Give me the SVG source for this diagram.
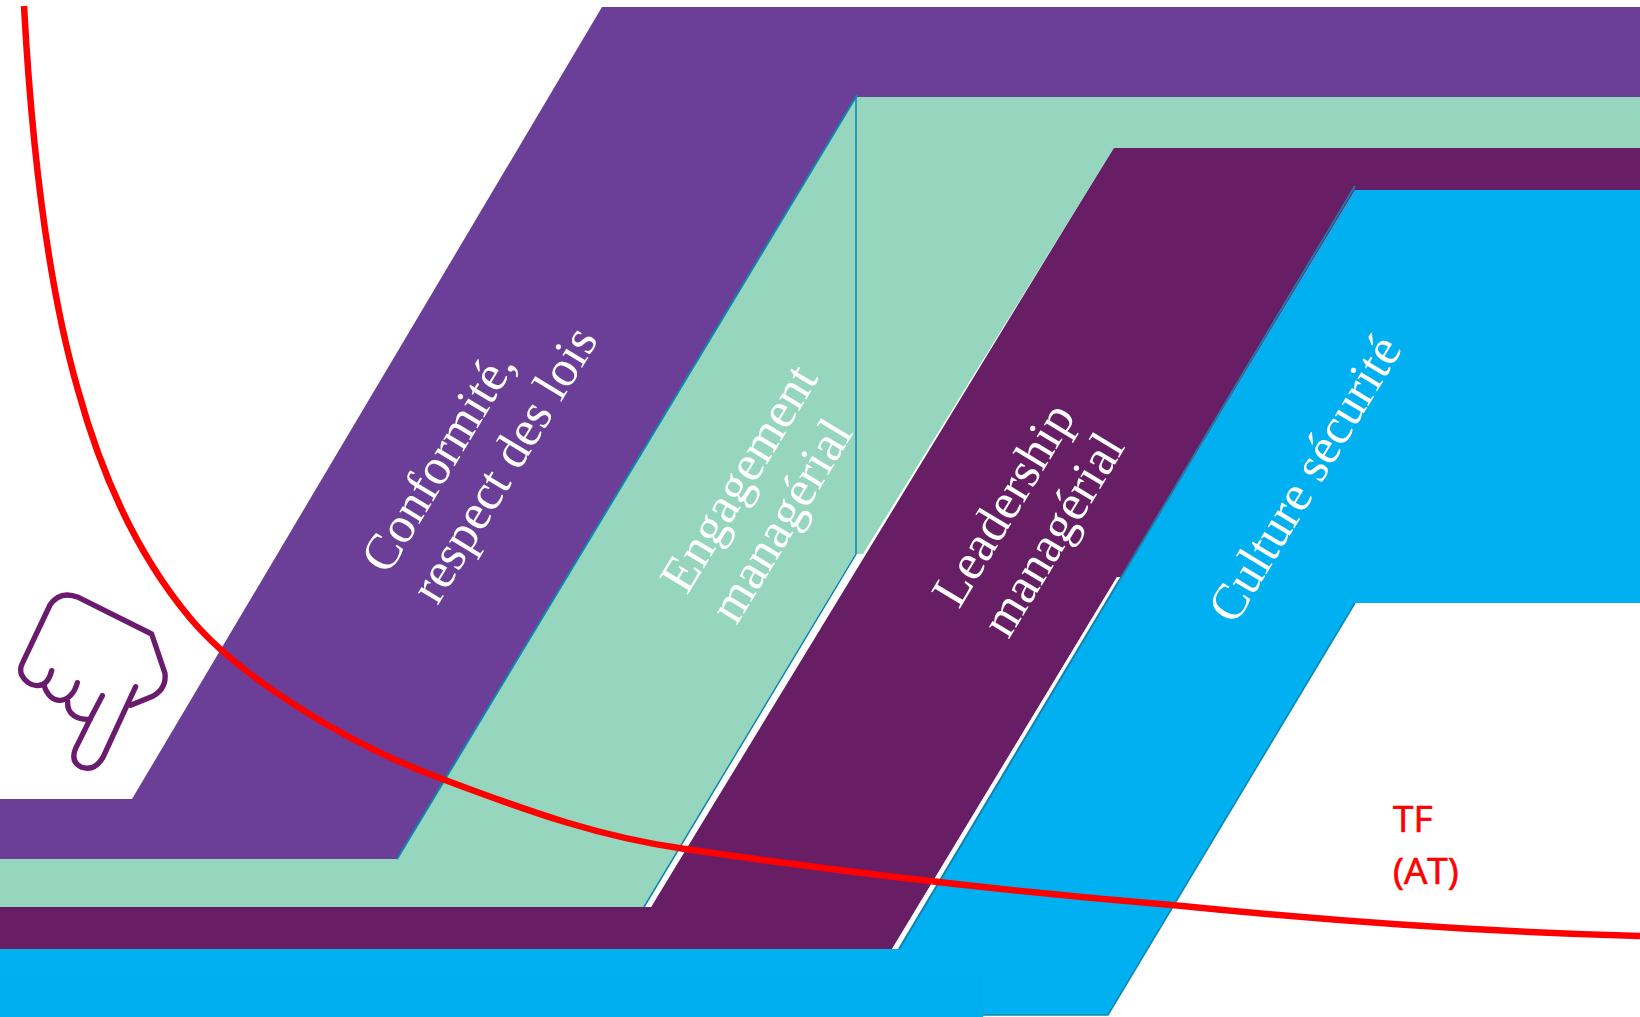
<svg xmlns="http://www.w3.org/2000/svg" width="1640" height="1017" viewBox="0 0 1640 1017">
<style>
.lab{font-family:"Liberation Serif","DejaVu Serif",serif;font-size:51px;fill:#fff}
.tf{font-family:"Open Sans","Noto Sans",sans-serif;font-size:37px;fill:#f00;stroke:#f00;stroke-width:.7}
.edge{fill:none;stroke:#0e86ad;stroke-width:1.5}
</style>
<rect width="1640" height="1017" fill="#fff"/>
<g id="culture">
<path d="M0 949H892L1122 577L1355 190H1640V603H1355L1108 1015H983V1017H0Z" fill="#00b0f0"/>
<rect x="0" y="976" width="983" height="41" fill="#00aeee"/>
<path class="edge" stroke-width="2" d="M1355 603L1108 1015H983"/>
<text class="lab" transform="translate(1235 626) rotate(-58.8)">Culture sécurité</text>
</g>
<g id="leadership">
<path d="M0 907H651L1114 147H1640V190H1355L1122 577H1117L892 949H0Z" fill="#671e64"/>
<path d="M1117 577H1122L899 949H892Z" fill="#fff"/>
<path d="M899 949L1355 186" fill="none" stroke="#1280ae" stroke-width="2"/>
<text class="lab" transform="translate(959 610) rotate(-58.8)"><tspan x="0" y="0">Leadership</tspan><tspan x="0" y="58">managérial</tspan></text>
</g>
<g id="engagement">
<path d="M0 859H397L856 97H1640V148H1114L863 554H855L644 907H0Z" fill="#96d6be"/>
<path d="M855 554H863L651 907H644Z" fill="#fff"/>
<path class="edge" d="M856 97V554L644 907"/>
<text class="lab" transform="translate(687 596) rotate(-58.8)"><tspan x="0" y="0">Engagement</tspan><tspan x="0" y="58">managérial</tspan></text>
</g>
<g id="conformite">
<path d="M0 799H132L602 7H1640V97H856L397 859H0Z" fill="#6b3f98"/>
<path d="M397 859L857 95" fill="none" stroke="#0e86ad" stroke-width="2"/>
<text class="lab" transform="translate(388 576) rotate(-58.8)"><tspan x="0" y="0">Conformité,</tspan><tspan x="0" y="58">respect des lois</tspan></text>
</g>
<g id="main" fill="none" stroke="#6a1b6e" stroke-width="16" stroke-linecap="round" stroke-linejoin="round" transform="translate(0 560) scale(.3333)">
<path d="M155 332C140 395 85 385 65 345Q58 328 67 310L150 135Q180 90 235 112L455 222L495 340Q500 385 460 408L392 436"/>
<path d="M232 368C215 435 150 440 132 375"/>
<path d="M307 407L270 478C235 480 200 465 203 425"/>
<path d="M270 478L227 565Q210 605 245 622Q285 635 310 590L407 380"/>
</g>
<g id="connectors">
<path id="courbe-tf" d="M24 6C33 170 52 300 78 390C100 470 135 552 190 618C236 673 340 742 445 780C530 812 600 837 685 849C850 873 1000 891 1172 905C1330 921 1480 932 1640 936" fill="none" stroke="#f00" stroke-width="6.5"/>
</g>
<g id="tf-at"><text class="tf" x="1393" y="832">TF</text><text class="tf" x="1393" y="884">(AT)</text></g>
</svg>
